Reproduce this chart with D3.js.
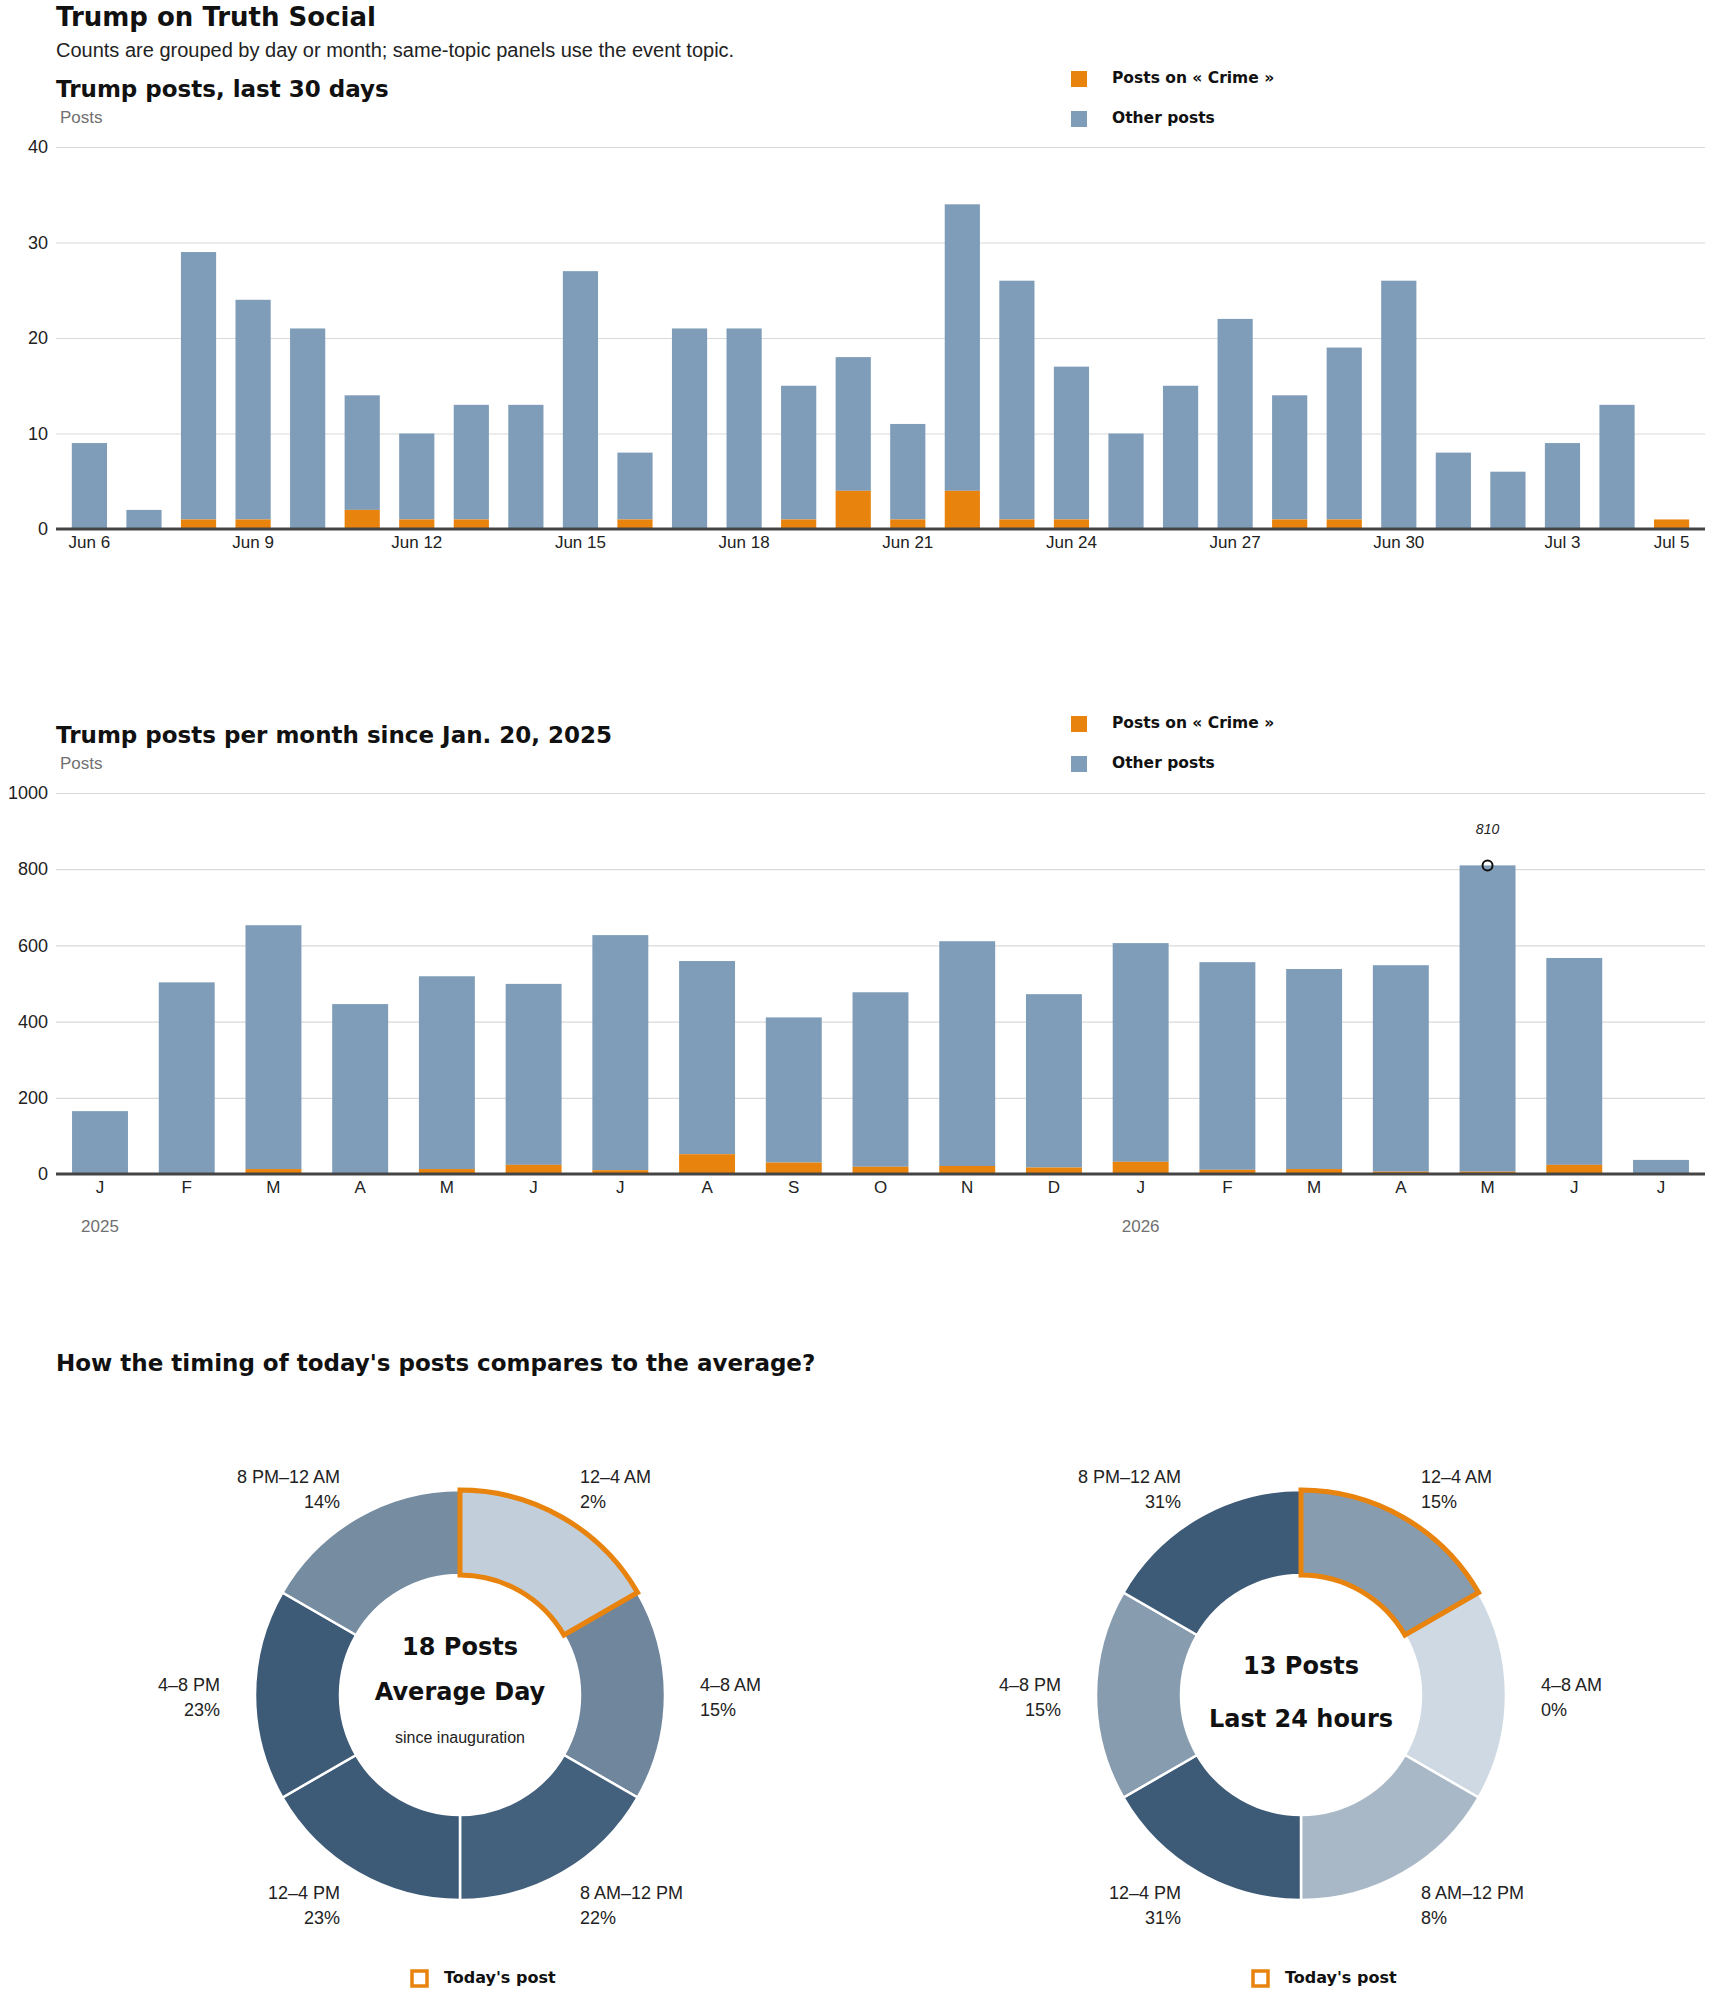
<!DOCTYPE html>
<html>
<head>
<meta charset="utf-8">
<script src="https://cdn.jsdelivr.net/npm/d3@7"></script>
<style>
  body { margin: 0; background: #fff; }
  svg text { font-family: "Liberation Sans", Arial, sans-serif; fill: #222; }
  svg text.hd { font-family: "DejaVu Sans", "Liberation Sans", sans-serif; font-weight: bold; fill: #111; }
</style>
</head>
<body>
<div id="chart"></div>
<script>
// ---- data ----
const days = ["Jun 6","Jun 7","Jun 8","Jun 9","Jun 10","Jun 11","Jun 12","Jun 13","Jun 14","Jun 15",
              "Jun 16","Jun 17","Jun 18","Jun 19","Jun 20","Jun 21","Jun 22","Jun 23","Jun 24","Jun 25",
              "Jun 26","Jun 27","Jun 28","Jun 29","Jun 30","Jul 1","Jul 2","Jul 3","Jul 4","Jul 5"];
const dayTotal = [9,2,29,24,21,14,10,13,13,27,8,21,21,15,18,11,34,26,17,10,15,22,14,19,26,8,6,9,13,1];
const dayCrime = [0,0,1,1,0,2,1,1,0,0,1,0,0,1,4,1,4,1,1,0,0,0,1,1,0,0,0,0,0,1];
const dayTickIdx = [0,3,6,9,12,15,18,21,24,27,29];
const dayYTicks = [0,10,20,30,40];

const months = ["J","F","M","A","M","J","J","A","S","O","N","D","J","F","M","A","M","J","J"];
const monthTotal = [165,503,653,446,519,499,627,559,411,477,611,472,606,556,538,548,810,567,37];
const monthCrime = [0,0,13,0,13,24,10,52,30,19,21,17,32,11,13,6,6,24,0];
const monthYTicks = [0,200,400,600,800,1000];
const yearLabels = ["2025","2026"];
const yearIdx = [0,12];
const peakIdx = 16;

const slots = ["12–4 AM","4–8 AM","8 AM–12 PM","12–4 PM","4–8 PM","8 PM–12 AM"];
const avgPct = [2,15,22,23,23,14];
const todayPct = [15,0,8,31,15,31];
const todaySlot = 0;
const avgPosts = 18;
const todayPosts = 13;

const legendLabels = ["Posts on « Crime »", "Other posts"];

// ---- setup ----
const W = 1710, H = 1993;
const ORANGE = "#e8830e", BLUE = "#7f9db9";
const left = 56, right = 1705;

const svg = d3.select("#chart").append("svg")
  .attr("width", W).attr("height", H)
  .style("background-color", "white");

// headings
svg.append("text").attr("class", "hd").attr("x", left).attr("y", 26)
  .style("font-size", "26px").text("Trump on Truth Social");
svg.append("text").attr("x", left).attr("y", 57)
  .style("font-size", "20px").text("Counts are grouped by day or month; same-topic panels use the event topic.");

function legend(top) {
  const colors = [ORANGE, BLUE];
  legendLabels.forEach((l, i) => {
    svg.append("rect").attr("x", 1071).attr("y", top + i * 40)
      .attr("width", 16).attr("height", 16).attr("fill", colors[i]);
    svg.append("text").attr("class", "hd").attr("x", 1112).attr("y", top + i * 40 + 12)
      .style("font-size", "15.5px").text(l);
  });
}

function barPanel(cfg) {
  svg.append("text").attr("class", "hd").attr("x", left).attr("y", cfg.titleY)
    .style("font-size", "23px").text(cfg.title);
  svg.append("text").attr("x", 60).attr("y", cfg.titleY + 26)
    .style("font-size", "17px").style("fill", "#707070").text("Posts");
  legend(cfg.legendTop);

  const x = d3.scaleBand().domain(d3.range(cfg.total.length))
    .range([left, right]).paddingInner(0.355).paddingOuter(cfg.outer);
  const y = d3.scaleLinear().domain([0, cfg.max]).range([cfg.y0, cfg.y1]);

  // grid + y axis
  svg.append("g").attr("transform", `translate(${left},0)`)
    .call(d3.axisLeft(y).tickValues(cfg.yTicks).tickFormat(d3.format("d"))
      .tickSize(-(right - left)).tickPadding(8))
    .call(a => a.select(".domain").remove())
    .call(a => a.selectAll("line").attr("stroke", "#dadada").attr("stroke-width", 1.2))
    .call(a => a.selectAll("text").style("font-size", "18px"));

  // stacked bars
  svg.append("g").selectAll("rect").data(cfg.total).join("rect")
    .attr("x", (d, i) => x(i)).attr("width", x.bandwidth())
    .attr("y", d => y(d)).attr("height", (d, i) => y(cfg.crime[i]) - y(d))
    .attr("fill", BLUE);
  svg.append("g").selectAll("rect").data(cfg.crime).join("rect")
    .attr("x", (d, i) => x(i)).attr("width", x.bandwidth())
    .attr("y", d => y(d)).attr("height", d => y(0) - y(d))
    .attr("fill", ORANGE);

  // baseline
  svg.append("line").attr("x1", left).attr("x2", right)
    .attr("y1", y(0)).attr("y2", y(0))
    .attr("stroke", "#444").attr("stroke-width", 3);

  // x axis
  svg.append("g").attr("transform", `translate(0,${y(0)})`)
    .call(d3.axisBottom(x).tickValues(cfg.xTicks).tickFormat(i => cfg.labels[i]).tickSize(0).tickPadding(7))
    .call(a => a.select(".domain").remove())
    .call(a => a.selectAll("text").style("font-size", "17px"));

  return { x, y };
}

// panel 1: last 30 days
barPanel({
  title: "Trump posts, last 30 days", titleY: 97, legendTop: 71,
  total: dayTotal, crime: dayCrime, labels: days, xTicks: dayTickIdx,
  yTicks: dayYTicks, max: 40, y0: 529, y1: 147, outer: 0.29
});

// panel 2: per month
const p2 = barPanel({
  title: "Trump posts per month since Jan. 20, 2025", titleY: 743, legendTop: 716,
  total: monthTotal, crime: monthCrime, labels: months, xTicks: d3.range(months.length),
  yTicks: monthYTicks, max: 1000, y0: 1174, y1: 793, outer: 0.185
});

yearLabels.forEach((l, i) => {
  svg.append("text").attr("x", p2.x(yearIdx[i]) + p2.x.bandwidth() / 2).attr("y", 1232)
    .attr("text-anchor", "middle").style("font-size", "17px").style("fill", "#707070").text(l);
});

// peak annotation
const px = p2.x(peakIdx) + p2.x.bandwidth() / 2;
svg.append("circle").attr("cx", px).attr("cy", p2.y(monthTotal[peakIdx])).attr("r", 5)
  .attr("fill", "none").attr("stroke", "#111").attr("stroke-width", 2);
svg.append("text").attr("x", px).attr("y", p2.y(monthTotal[peakIdx]) - 31)
  .attr("text-anchor", "middle").style("font-size", "14px").style("font-style", "italic")
  .text(monthTotal[peakIdx]);

// donuts
svg.append("text").attr("class", "hd").attr("x", left).attr("y", 1371)
  .style("font-size", "23px").text("How the timing of today's posts compares to the average?");

function donut(cx, cy, vals, centerLines, sub) {
  const color = d3.scaleLinear().domain([0, d3.max(vals)]).range(["#cfd9e3", "#3d5a77"]);
  const arcs = d3.pie().value(1).sort(null)(vals);
  const arc = d3.arc().innerRadius(120).outerRadius(205);
  const g = svg.append("g").attr("transform", `translate(${cx},${cy})`);

  g.selectAll("path").data(arcs).join("path")
    .attr("d", arc).attr("fill", d => color(d.data))
    .attr("stroke", "#fff").attr("stroke-width", 2.5);
  g.append("path").attr("d", arc(arcs[todaySlot]))
    .attr("fill", "none").attr("stroke", ORANGE).attr("stroke-width", 5);

  arcs.forEach((a, i) => {
    const m = (a.startAngle + a.endAngle) / 2;
    const s = Math.sin(m), lx = 240 * s, ly = -240 * Math.cos(m);
    const t = g.append("text").attr("x", lx).attr("y", ly)
      .attr("text-anchor", s > 0.01 ? "start" : (s < -0.01 ? "end" : "middle"))
      .style("font-size", "18px");
    t.append("tspan").attr("x", lx).attr("dy", -4).text(slots[i]);
    t.append("tspan").attr("x", lx).attr("dy", 25).text(vals[i] + "%");
  });

  centerLines.forEach(c => {
    g.append("text").attr("class", "hd").attr("y", c[1]).attr("text-anchor", "middle")
      .style("font-size", "24px").text(c[0]);
  });
  if (sub) {
    g.append("text").attr("y", 48).attr("text-anchor", "middle")
      .style("font-size", "16px").text(sub);
  }

  // legend
  g.append("rect").attr("x", -48).attr("y", 276).attr("width", 15).attr("height", 15)
    .attr("fill", "none").attr("stroke", ORANGE).attr("stroke-width", 3.5);
  g.append("text").attr("class", "hd").attr("x", -16).attr("y", 288)
    .style("font-size", "16px").text("Today's post");
}

donut(460, 1695, avgPct, [[avgPosts + " Posts", -40], ["Average Day", 5]], "since inauguration");
donut(1301, 1695, todayPct, [[todayPosts + " Posts", -21], ["Last 24 hours", 32]], null);
</script>
</body>
</html>
